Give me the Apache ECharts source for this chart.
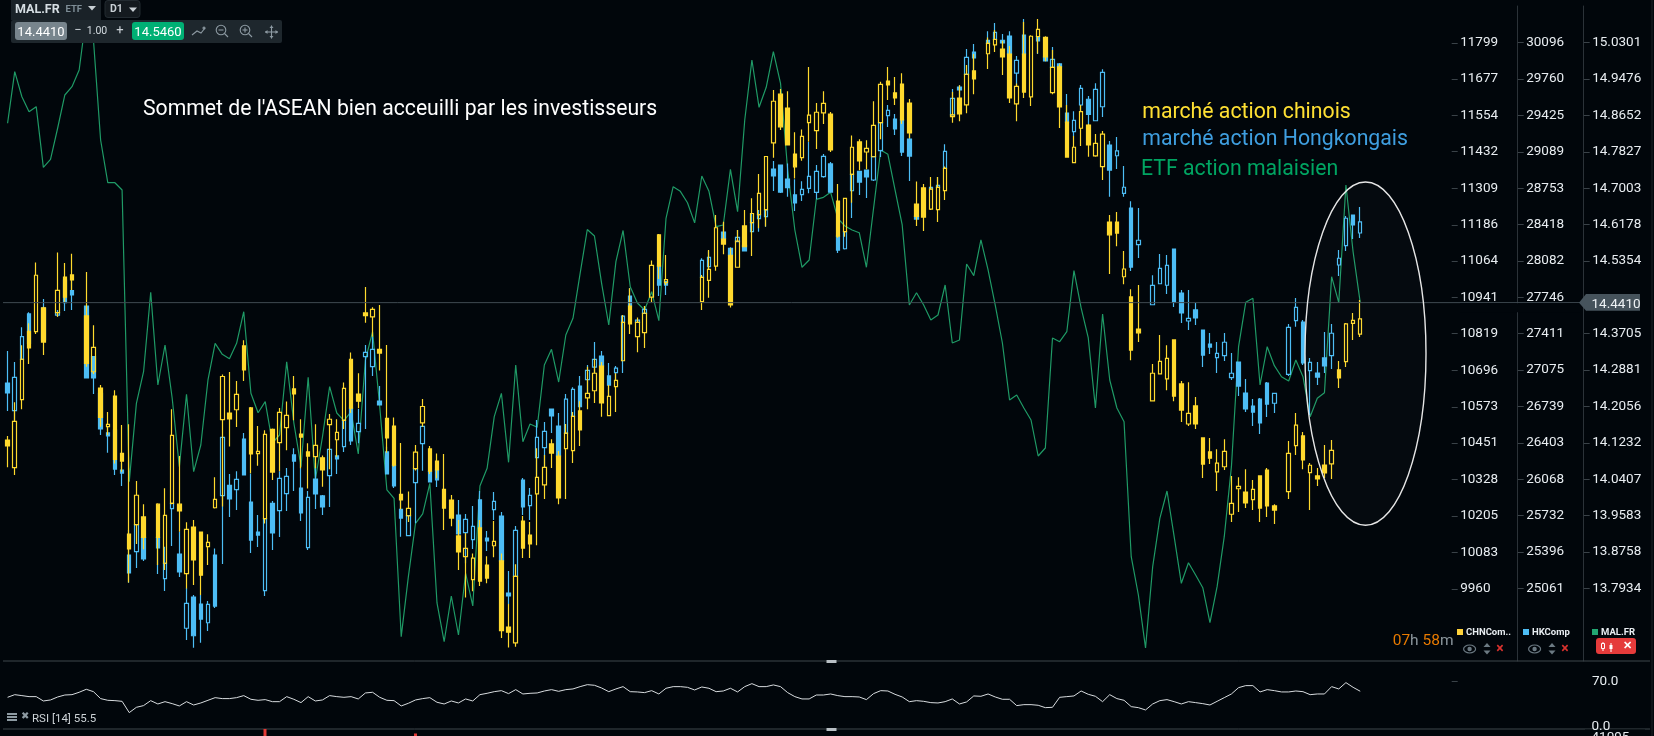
<!DOCTYPE html>
<html><head><meta charset="utf-8"><title>MAL.FR</title>
<style>html,body{margin:0;padding:0;background:#01060b;overflow:hidden}#c{width:1654px;height:736px}</style>
<script src="https://cdn.jsdelivr.net/npm/echarts@6/dist/echarts.min.js"></script>
</head><body><div id="c"></div>
<script>
// candle rows: [open, close, low, high]; null = no session drawn
const chnCandles = [
[10461,10441,10369,10475],[10368,10524,10343,10588],[10597,10733,10565,10780],[10827,10771,10717,10854],[10826,11016,10818,11059],[10906,10791,10747,10910],null,[10890,10965,10876,11093],[11010,10942,10927,11057],[11017,11000,10966,11088],
null,[10879,10719,10708,11027],[10691,10773,10683,10848],[10636,10537,10506,10646],[10506,10514,10478,10555],[10609,10396,10382,10629],[10416,10390,10354,10512],[10144,10094,9981,10514],[10176,10275,10111,10323],[10202,10133,10093,10245],
null,[10245,10133,10040,10248],[10046,10207,10023,10299],[10248,10477,10245,10565],[10245,10222,10152,10407],[10011,10160,9961,10184],[10168,10057,9973,10192],[10151,10006,9939,10153],[10102,10116,10040,10144],[10233,10261,10230,10336],
[10530,10675,10237,10682],[10552,10532,10439,10690],[10563,10615,10505,10660],[10778,10697,10660,10797],[10569,10414,10349,10572],[10415,10423,10374,10508],[10196,10480,10180,10494],[10497,10353,10326,10500],[10452,10554,10356,10569],[10503,10544,10427,10591],
[10633,10616,10528,10677],[10481,10471,10366,10531],[10421,10407,10298,10450],[10405,10443,10366,10514],[10401,10360,10304,10409],[10513,10531,10363,10549],[10462,10487,10405,10531],[10527,10635,10498,10655],[10733,10568,10552,10756],[10616,10592,10568,10686],
[10889,10880,10856,10976],[10876,10901,10809,10908],[10766,10754,10695,10916],[10534,10468,10418,10781],[10508,10376,10371,10537],[10278,10259,10228,10451],[10206,10231,10185,10288],[10365,10420,10358,10444],[10519,10574,10506,10599],[10431,10356,10347,10441],
[10390,10360,10332,10416],[10295,10232,10158,10414],[10259,10198,10171,10276],[10138,10084,10023,10192],[10068,10096,9931,10147],[9991,10063,9952,10079],[10165,9986,9969,10192],[10040,9996,9979,10070],[10105,10120,10066,10188],[10054,9819,9794,10079],
[9831,9814,9762,9909],[9778,10002,9765,10043],[10188,10097,10064,10205],[10141,10111,10064,10185],[10280,10335,10107,10433],[10310,10369,10262,10411],[10448,10417,10367,10464],[10407,10266,10245,10424],[10432,10484,10262,10515],[10425,10541,10384,10555],
[10559,10495,10441,10592],[10603,10618,10565,10708],[10627,10686,10586,10734],[10710,10586,10539,10724],[10543,10608,10543,10646],[10641,10662,10555,10686],[10728,10857,10728,10882],[10912,10852,10818,10972],[10809,10857,10757,10874],[10823,10888,10771,10912],
[10942,11049,10926,11066],[11152,11047,11003,11155],[10991,11001,10983,11084],null,null,null,null,[10927,11009,10899,11017],[10999,11036,10940,11101],[11047,11176,11031,11219],
[11138,11121,11087,11196],[11083,10916,10907,11107],[11043,11131,11043,11168],[11182,11112,11110,11236],[11193,11224,11081,11275],[11220,11292,11174,11357],[11237,11416,11180,11418],[11462,11602,11412,11640],[11626,11516,11505,11643],[11579,11455,11455,11636],
[11424,11381,11342,11498],[11412,11484,11402,11507],[11530,11555,11466,11717],[11503,11565,11441,11596],[11563,11595,11525,11636],[11559,11438,11431,11566],[11266,11148,11142,11323],[11163,11275,11146,11276],[11356,11447,11260,11487],[11465,11401,11370,11474],
[11431,11443,11373,11471],[11415,11521,11415,11602],[11530,11659,11474,11668],[11670,11657,11606,11717],[11630,11613,11589,11684],[11660,11539,11525,11696],[11596,11495,11477,11610],[11256,11214,11182,11332],[11310,11212,11165,11323],[11239,11306,11236,11347],
[11237,11312,11195,11347],[11301,11376,11269,11382],[11550,11556,11530,11633],[11613,11559,11535,11656],[11590,11693,11562,11724],[11704,11677,11626,11761],null,[11762,11797,11711,11817],[11792,11810,11768,11842],[11778,11751,11690,11806],
[11761,11613,11596,11788],[11593,11652,11535,11662],[11761,11633,11613,11869],[11617,11821,11586,11824],[11820,11844,11763,11879],[11817,11751,11737,11821],[11631,11716,11626,11775],[11718,11583,11512,11727],[11532,11414,11414,11589],[11395,11447,11395,11485],
[11511,11567,11451,11589],[11522,11455,11415,11525],[11418,11460,11415,11492],[11382,11491,11337,11502],[11195,11152,11020,11219],[11195,11158,11114,11229],[11011,11037,10986,11098],[10943,10764,10730,10969],[10835,10822,10791,10983],null,
[10593,10686,10593,10717],[10684,10726,10684,10815],[10667,10736,10629,10780],[10798,10609,10592,10800],[10650,10562,10522,10660],[10515,10551,10508,10656],[10576,10515,10498,10606],[10468,10380,10333,10470],[10421,10400,10380,10468],[10354,10383,10289,10430],
[10371,10423,10360,10464],[10211,10248,10185,10340],[10297,10305,10219,10336],[10286,10249,10232,10363],[10260,10295,10225,10326],[10340,10232,10185,10342],[10360,10239,10202,10367],[10239,10225,10178,10245],null,[10287,10416,10262,10458],
[10442,10511,10411,10552],[10475,10394,10363,10488],[10351,10376,10225,10384],[10340,10330,10306,10367],[10377,10350,10333,10444],[10381,10426,10330,10461],[10697,10670,10636,10727],[10725,10852,10707,10855],[10854,10864,10798,10889],[10818,10869,10808,10933]
];
const hkCandles = [
[26956,26864,26698,27251],[26701,27008,26602,27150],[27175,27384,27168,27470],[27593,27322,27279,27608],null,[27648,27353,27353,27731],null,[27583,27605,27568,27630],[27906,27697,27620,27906],[27808,27768,27630,27906],
null,[27666,27002,27002,27666],[27199,27002,26855,27199],[26861,26532,26476,26892],[26495,26467,26313,26553],[26522,26162,26107,26553],[26153,26125,26005,26215],[25369,25203,25114,25600],[25400,25649,25249,25649],[25532,25332,25314,25600],
null,[25532,25434,25194,25600],[25151,25292,25037,25446],[25797,25846,25452,25846],[25378,25212,25166,25584],[24693,24923,24585,25064],[24981,24624,24514,25000],[24917,24778,24560,25000],[24744,24914,24668,24945],[25369,24898,24880,25430],
[25916,26455,25286,26455],[26012,25886,25719,26116],[25972,26067,25784,26141],[26439,26107,26107,26495],[25858,25507,25387,26122],[25581,25553,25443,25738],[25040,25704,24991,25704],[25846,25572,25415,25867],[25778,26076,25535,26141],[25935,26095,25775,26172],
[26292,26236,25960,26353],[25987,25757,25683,26215],[25437,25901,25415,25960],[26070,25932,25794,26215],[25914,25812,25738,25923],[26101,26344,25812,26344],[26283,26255,26116,26292],[26369,26612,26319,26612],[26725,26421,26384,26725],[26507,26584,26399,26716],
[27199,27239,26532,27307],[27107,27267,27021,27384],[26790,26753,26753,26928],[26320,26117,26117,26369],[26196,26006,25987,26196],[25790,25710,25538,25877],[25547,25732,25547,25732],[26036,26166,25661,26166],[26396,26556,26147,26556],[26141,26043,26043,26141],
[26153,26061,25997,26153],null,null,[25738,25563,25507,25877],[25575,25698,25292,25747],[25511,25633,25424,25821],[25877,25618,25600,25960],[25526,25498,25406,25590],[25787,25864,25692,25950],[25729,25314,25314,25766],
[25018,24991,24917,25221],[25172,25597,25172,25637],[26061,25812,25738,26080],[25824,25920,25692,25987],[26267,26455,26092,26615],[26360,26510,26181,26596],[26716,26652,26495,26716],[26559,26283,26283,26679],[26491,26808,26491,26855],[26648,26897,26648,26916],
[26928,26737,26697,27021],[26987,27073,26861,27122],[27103,27174,27045,27334],[27205,27113,27113,27251],[27021,26937,26833,27140],[27051,27094,26981,27113],[27516,27574,27048,27584],[27759,27667,27667,27830],[27516,27537,27516,27545],[27599,27636,27599,27667],
null,[28036,27860,27759,28036],[27891,27860,27768,27891],null,null,null,null,[27931,28088,27931,28106],[28029,28115,28005,28171],null,
[28349,28291,28285,28438],[28198,28137,28137,28208],[28260,28300,28260,28368],[28226,28174,28174,28226],[28352,28435,28352,28521],[28472,28509,28352,28552],[28491,28552,28398,28552],[28930,28866,28727,29004],[28967,28718,28709,28967],[28838,28758,28675,28982],
[28691,28617,28543,28835],[28694,28743,28635,28817],[28752,28863,28706,29180],[28715,28909,28651,28967],[28860,29047,28850,29069],[28977,28718,28718,28995],[28312,28183,28155,28312],[28195,28352,28189,28352],[28730,28881,28478,28881],[28909,28810,28691,28909],
[28921,28857,28663,28921],[28829,29044,28820,29044],[29100,29358,29041,29358],[29423,29472,29318,29521],[29392,29300,29244,29438],[29383,29087,29050,29383],[29207,29050,28820,29263],[28497,28469,28469,28497],null,[28746,28761,28746,28761],
[28761,28780,28761,28857],[28937,29093,28937,29158],[29429,29582,29429,29669],[29687,29660,29586,29703],[29804,29961,29804,30038],[30010,29955,29835,30084],null,[30118,30090,30090,30201],[30127,30192,30127,30278],[30118,30093,30038,30176],
[30158,29992,29992,30201],[29816,29933,29693,29973],[30167,29992,29992,30315],null,[30152,30112,29992,30152],[29964,29927,29927,29964],[29869,29942,29869,30056],[29900,29875,29875,29909],[29447,29364,29364,29623],[29275,29380,29235,29463],
[29521,29675,29459,29706],[29574,29435,29337,29604],[29376,29666,29376,29721],[29505,29823,29410,29851],[29152,28921,28675,29189],[29053,29097,28931,29226],[28706,28762,28675,28958],[28571,28026,27989,28633],[28232,28273,28109,28571],null,
[27678,27857,27678,27950],[27872,28014,27872,28146],[27858,28042,27777,28137],[28192,27703,27657,28192],[27786,27602,27510,27814],[27528,27553,27445,27814],[27630,27556,27491,27694],[27445,27214,27104,27445],[27316,27288,27224,27417],[27190,27230,27048,27334],
[27208,27332,27159,27417],[27005,27046,26984,27233],[27150,26928,26836,27150],[26864,26716,26688,26993],[26744,26688,26559,26808],[26808,26587,26485,26818],[26956,26762,26642,26965],[26769,26861,26679,26861],null,[27036,27470,27021,27500],
[27531,27654,27475,27740],[27519,27141,27122,27537],[27070,27147,26661,27187],[27048,27011,26938,27150],[27187,27113,27048,27427],[27208,27415,27085,27500],[28045,28107,27943,28183],[28223,28476,28174,28497],[28506,28414,28285,28506],[28340,28442,28294,28580]
];
const malClose = [
14.8475,14.9644,14.9077,14.8737,14.8851,14.7477,14.7659,14.8368,14.9116,14.9304,
14.9683,15.0929,15.0362,14.8096,14.7128,14.7128,14.6963,14.0352,14.2128,14.2845,
14.4644,14.2543,14.3450,14.2242,14.0692,14.2333,14.0578,14.1184,14.2657,14.3488,
14.3239,14.3139,14.3488,14.4205,14.2355,14.1915,14.2165,14.1229,14.1410,14.3071,
14.1682,14.0692,14.2718,14.0390,14.1371,14.2505,14.1909,14.1734,14.1938,14.0980,
14.3110,14.3751,14.2052,14.0164,13.9975,13.6839,13.8199,13.9409,13.9620,14.0315,
13.7603,13.6725,13.7761,13.6877,13.8276,13.7535,14.0254,14.0655,14.1825,14.2355,
14.0791,14.2997,14.1258,14.1659,14.1584,14.2997,14.3352,14.2611,14.3677,14.4055,
14.5075,14.6068,14.5920,14.4848,14.3903,14.5338,14.6045,14.4771,14.4402,14.4243,
14.4658,14.4001,14.6321,14.7038,14.6933,14.6675,14.6217,14.7280,14.6933,14.6131,
14.6170,14.7432,14.6471,14.8549,14.9909,14.8837,14.9290,15.0097,14.9381,14.7416,
14.6056,14.5211,14.5376,14.6752,14.6797,14.6911,14.6321,14.6147,14.6056,14.5995,
14.5211,14.6548,14.7869,14.7772,14.6963,14.6170,14.4356,14.4635,14.4356,14.4017,
14.4130,14.4810,14.3495,14.3563,14.5286,14.5021,14.5830,14.5150,14.4356,14.3495,
14.2203,14.2317,14.2022,14.1750,14.0934,14.1116,14.3609,14.3525,14.3751,14.5134,
14.4289,14.3609,14.2022,14.4153,14.2657,14.2022,14.1712,13.8652,13.7784,13.6583,
13.8425,13.9522,14.0141,13.9105,13.8049,13.8516,13.8237,13.7949,13.7156,13.7972,
13.9105,14.0692,14.3411,14.4418,14.4508,14.2543,14.3411,14.2981,14.2731,14.2634,
14.3110,14.2731,14.1825,14.2242,14.2369,14.4998,14.4409,14.7076,14.5564,14.4410
];
const rsiValues = [
46.6,50.5,49.1,47.6,47.6,41.2,42.7,47.1,50.0,50.5,54.0,58.4,54.9,44.7,42.2,41.7,40.7,24.1,31.9,34.4,
41.7,36.8,40.2,37.3,33.9,40.2,35.3,38.3,42.2,46.1,44.7,44.7,46.1,49.1,43.7,42.2,43.2,40.2,40.2,47.6,
43.7,38.8,47.6,41.2,42.7,49.1,47.6,46.6,47.6,44.2,53.0,54.0,46.6,42.2,41.7,33.9,37.8,42.7,44.7,46.1,
39.3,36.8,41.2,38.3,44.2,41.2,50.5,52.5,54.9,56.4,52.0,57.9,51.5,52.5,53.0,55.9,57.9,55.4,57.9,58.9,
62.3,65.2,64.3,60.3,54.9,58.9,62.3,54.9,54.5,53.5,56.4,51.5,59.9,62.3,62.3,61.3,57.4,61.8,59.9,54.9,
55.9,59.9,54.5,62.3,66.7,62.3,62.3,64.8,62.3,53.5,47.6,44.2,44.2,50.0,50.0,51.5,49.1,47.6,47.6,47.1,
43.2,52.0,56.4,55.9,51.0,47.1,40.2,41.7,40.7,38.8,38.3,40.2,44.2,36.8,39.8,48.6,48.1,51.5,47.1,43.7,
43.7,34.4,35.8,35.8,34.9,31.4,31.9,46.6,47.6,48.6,55.9,51.0,48.1,40.2,50.5,44.7,42.2,32.9,31.4,28.0,
36.8,41.7,43.2,40.2,36.8,40.2,38.8,37.3,35.3,40.7,46.1,51.5,60.8,63.8,63.8,54.5,57.9,56.4,54.5,54.5,
55.9,54.9,50.5,51.5,51.5,62.3,58.9,68.2,61.3,55.5
];
const chnTicks = [11799,11677,11554,11432,11309,11186,11064,10941,10819,10696,10573,10451,10328,10205,10083,9960];
const hkTicks = [30096,29760,29425,29089,28753,28418,28082,27746,27411,27075,26739,26403,26068,25732,25396,25061];
const malTicks = [15.0301,14.9476,14.8652,14.7827,14.7003,14.6178,14.5354,14.3705,14.2881,14.2056,14.1232,14.0407,13.9583,13.8758,13.7934];
const rsiTicks = [70];
const lastPrice = 14.4410;
const askPrice = 14.5460;
const categories = Array.from({length:202},(_,i)=>String(i));

const BG='#01060b', YEL='#ffd92e', BLU='#4dbdf5', GRN='#1f9a66', LBL='#e8edf1', SEP='#3e474d';
const FONT='Roboto';
const rows = a => a.map(r => r || ['-','-','-','-']);
const candle = (name,data,axis,col,z) => ({
  name,type:'candlestick',data:rows(data),xAxisIndex:0,yAxisIndex:axis,barWidth:4,z,
  itemStyle:{color:'transparent',color0:col,borderColor:col,borderColor0:col,borderWidth:1.2},
  silent:true
});
const yAx = (min,max,offset,ticks,fmt,line) => ({
  type:'value',gridIndex:0,position:'right',offset,min,max,scale:true,splitLine:{show:false},
  axisLine:{show:line,lineStyle:{color:'#2b3238',width:1}},
  axisTick:{show:true,length:6,customValues:ticks,lineStyle:{color:'#3a4248'}},
  axisLabel:{show:true,margin:8.5,padding:[7,0,0,0],customValues:ticks,color:LBL,fontFamily:FONT,fontSize:13.5,formatter:fmt}
});
const chart = echarts.init(document.getElementById('c'),null,{renderer:'canvas'});
chart.setOption({
  animation:false,backgroundColor:BG,tooltip:{show:false},
  grid:[{left:4,top:6,width:1445.7,height:655},{left:4,top:661,width:1445.7,height:68}],
  xAxis:[
    {type:'category',gridIndex:0,data:categories,show:false},
    {type:'category',gridIndex:1,data:categories,show:false}
  ],
  yAxis:[
    yAx(9716.8,11922.8,2,chnTicks,v=>String(v),false),
    yAx(24391,30434.6,68,hkTicks,v=>String(v),true),
    yAx(13.6288,15.1133,134,malTicks,v=>v.toFixed(4),true),
    {type:'value',gridIndex:1,position:'right',offset:2,min:0,max:100,splitLine:{show:false},axisLine:{show:false},
     axisTick:{show:true,length:6,customValues:rsiTicks,lineStyle:{color:'#3a4248'}},
     axisLabel:{show:true,margin:140.3,padding:[7,0,0,0],customValues:rsiTicks,color:LBL,fontFamily:FONT,fontSize:13.5,formatter:v=>v.toFixed(1)}}
  ],
  series:[
    {name:'MAL.FR',type:'line',data:malClose,xAxisIndex:0,yAxisIndex:2,symbol:'none',z:1,silent:true,lineStyle:{color:GRN,width:1.2}},
    candle('HKComp',hkCandles,1,BLU,2),
    candle('CHNComp',chnCandles,0,YEL,3),
    {name:'RSI',type:'line',data:rsiValues,xAxisIndex:1,yAxisIndex:3,symbol:'none',z:2,silent:true,lineStyle:{color:'#d8dcdf',width:1}}
  ]
});

const priceY = chart.convertToPixel({yAxisIndex:2},lastPrice);
const rect=(x,y,w,h,fill,r,stroke)=>({type:'rect',shape:{x,y,width:w,height:h,r:r||0},style:{fill,stroke:stroke||null,lineWidth:stroke?1:0},silent:true,z:100});
const hline=(x1,y1,x2,y2,col,w)=>({type:'line',shape:{x1,y1,x2,y2},style:{stroke:col,lineWidth:w||1},silent:true,z:100});
const text=(x,y,t,col,size,weight,align)=>({type:'text',x,y,silent:true,z:101,style:{text:t,fill:col,font:(weight||'normal')+' '+size+'px '+FONT,textAlign:align||'left',textVerticalAlign:'middle'}});
const poly=(pts,fill,stroke)=>({type:stroke?'polyline':'polygon',shape:{points:pts},style:stroke?{stroke,fill:null,lineWidth:1.1}:{fill},silent:true,z:101});
const circ=(cx,cy,r,stroke)=>({type:'circle',shape:{cx,cy,r},style:{stroke,fill:null,lineWidth:1.1},silent:true,z:101});
const ICON='#8d9aa2';
const els=[
  // price line & label
  hline(3,priceY,1580,priceY,'#3f4b52',1),
  rect(1460,priceY+0.5,120,9,BG),
  poly([[1579,priceY],[1586,294],[1640,294],[1640,310.7],[1586,310.7]],'#46535c'),
  text(1591.5,304.5,lastPrice.toFixed(4),'#eef2f5',13.5),
  // pane separators
  hline(3,661,1650,661,SEP,1), hline(3,729,1650,729,SEP,1),
  hline(1652,0,1652,736,'#1a2026',1),
  rect(826.5,660,10,3,'#b9c0c5'), rect(826.5,728,10,3,'#b9c0c5'),
  rect(263.5,729,3,7,'#e53935'), rect(414,733.5,3,3,'#e53935'),
  // ellipse annotation
  {type:'ellipse',shape:{cx:1365.5,cy:353.6,rx:60.5,ry:171.6},style:{stroke:'#e6e6e6',fill:'rgba(255,255,255,0.018)',lineWidth:1.4},silent:true,z:100},
  // commentary
  text(143,109.5,"Sommet de l'ASEAN bien acceuilli par les investisseurs",'#ffffff',21.2),
  text(1142.3,112.5,'marché action chinois','#ffe033',21.25),
  text(1142.3,140,'marché action Hongkongais','#3f9fe0',21.25),
  text(1141,169.5,'ETF action malaisien','#00a562',21.25),
  // top toolbar
  rect(11,0,90,20,'#1a2228'),
  text(15,9.5,'MAL.FR','#d5dde2',12.5,'bold'),
  text(65.5,9.5,'ETF','#7e8d96',9.5,'bold'),
  poly([[88,6],[96,6],[92,10.5]],'#c9d0d5'),
  rect(105,0.5,35,17,'#141a1f',3,'#232b31'),
  text(110,9.5,'D1','#c9d0d5',10.5,'bold'),
  poly([[129,7.5],[137,7.5],[133,12]],'#c9d0d5'),
  rect(11,20,271,23,'#1e272d',2),
  rect(15,22,52,18,'#78858d',3),
  text(41,32.5,lastPrice.toFixed(4),'#ffffff',13,'normal','center'),
  text(78,30.5,'−','#c9d0d5',13,'normal','center'),
  text(97,31.5,'1.00','#d5dde2',10.5,'normal','center'),
  text(120,30.5,'+','#c9d0d5',13,'normal','center'),
  rect(132,22,52,18,'#00b074',3),
  text(158,32.5,askPrice.toFixed(4),'#ffffff',13,'normal','center'),
  poly([[192,35],[197,31],[201,33],[205,28]],null,ICON), circ(204,28,1,ICON),
  circ(221,30,4.8,ICON), hline(218.5,30,223.5,30,ICON,1.1), hline(224.5,33.5,228,37,ICON,1.1),
  circ(245,30,4.8,ICON), hline(242.5,30,247.5,30,ICON,1.1), hline(245,27.5,245,32.5,ICON,1.1), hline(248.5,33.5,252,37,ICON,1.1),
  hline(265,32,278,32,ICON,1.1), hline(271.5,25.5,271.5,38.5,ICON,1.1),
  poly([[265,32],[267.5,30],[267.5,34]],ICON), poly([[278,32],[275.5,30],[275.5,34]],ICON),
  poly([[271.5,25.5],[269.5,28],[273.5,28]],ICON), poly([[271.5,38.5],[269.5,36],[273.5,36]],ICON),
  // countdown
  {type:'text',x:1392.7,y:641.5,silent:true,z:101,style:{
    text:'{o|07}{g|h }{o|58}{g|m}',textVerticalAlign:'middle',
    rich:{o:{fill:'#e87a00',font:'15.5px '+FONT},g:{fill:'#8a959c',font:'15.5px '+FONT}}}},
  // series chips
  rect(1457,629,6,6,'#ffd23a'), text(1466,632.5,'CHNCom..',LBL,9.5,'bold'),
  rect(1523,629,6,6,BLU), text(1532,632.5,'HKComp',LBL,9.5,'bold'),
  rect(1592,629,6,6,'#22a672'), text(1601,632.5,'MAL.FR',LBL,9.5,'bold'),
];
const chipIcons=(eye,arr,x)=>[
  {type:'ellipse',shape:{cx:eye,cy:649,rx:6,ry:4},style:{stroke:'#6c7a83',fill:null,lineWidth:1.2},silent:true,z:101},
  {type:'circle',shape:{cx:eye,cy:649,r:2.2},style:{fill:'#6c7a83'},silent:true,z:101},
  poly([[arr-3.5,647],[arr+3.5,647],[arr,643]],'#6c7a83'),
  poly([[arr-3.5,650.5],[arr+3.5,650.5],[arr,654.5]],'#6c7a83'),
  text(x,649,'×','#d9322e',14,'bold','center')
];
els.push(...chipIcons(1469.6,1487,1500),...chipIcons(1534.6,1552,1565));
els.push(
  rect(1596,638,40,16,'#e53b3b',3),
  hline(1603,642,1603,651,'#fff',1), rect(1601.5,643.5,3,5,'#e53b3b',0,'#fff'),
  hline(1611,643,1611,652,'#fff',1), rect(1609.5,645,3,4,'#fff'),
  text(1627.5,646.5,'✕','#ffffff',11,'bold','center'),
  // RSI caption and bottom-of-pane labels
  rect(7,713,10,2,'#8d9aa2'), rect(7,716,10,2,'#8d9aa2'), rect(7,719,10,2,'#8d9aa2'),
  text(24.5,716.5,'✖','#8d9aa2',10,'normal','center'),
  text(32,719.5,'RSI [14] 55.5','#cdd3d7',11.5),
  text(1591.5,727,'0.0',LBL,13.5),
  rect(1585,729.5,60,3,BG),
  text(1591.5,738,'41095',LBL,13.5)
);
chart.setOption({graphic:{elements:els}});
</script></body></html>
